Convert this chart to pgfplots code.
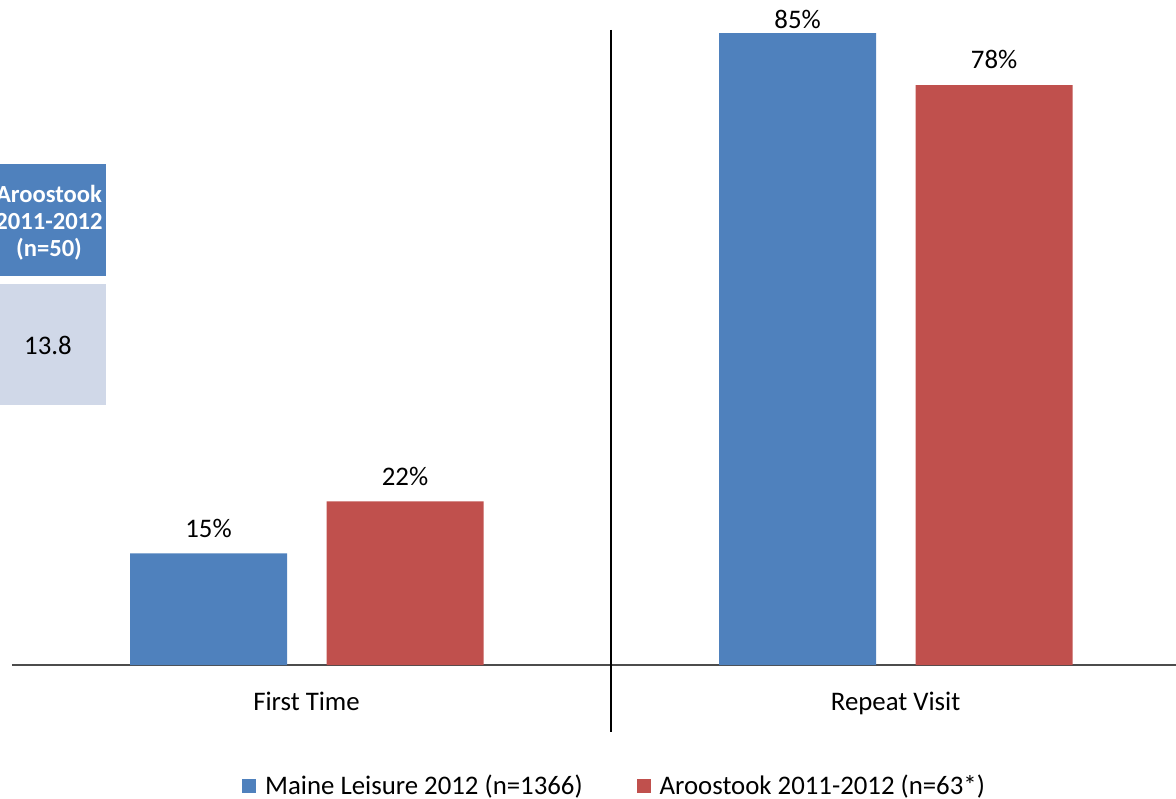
\documentclass[border=0pt]{standalone}
\usepackage{pgfplots}
\pgfplotsset{compat=1.18}
\usepackage{fontspec}
\setmainfont{Carlito}
\definecolor{cblue}{HTML}{4F81BD}
\definecolor{cred}{HTML}{C0504D}
\definecolor{clight}{HTML}{D0D8E8}
\begin{document}
\begin{tikzpicture}
\begin{axis}[
  at={(0,0)}, anchor=south west,
  scale only axis, width=582pt, height=332.5pt,
  xmin=-0.5, xmax=1.476, ymin=0, ymax=89.44,
  axis y line=none, axis x line*=bottom,
  x axis line style={-, line width=0.8pt, color=black!70},
  xtick={0,1}, xticklabels={First Time, Repeat Visit},
  major tick length=0pt,
  xticklabel style={font=\fontsize{13.4}{16}\selectfont, yshift=-10pt},
  ybar, bar width=78.5pt,
  /pgf/number format/assume math mode=true,
  visualization depends on={y \as \yv},
  nodes near coords={\pgfmathprintnumber{\pgfplotspointmeta}\%},
  nodes near coords style={font=\fontsize{13.4}{16}\selectfont, text=black, yshift={4.4pt-5.6pt*(\yv>80)}},
  clip=false,
  legend columns=2,
  legend style={draw=none, fill=none, at={(0.5185,0)}, anchor=center, yshift=-60.5pt,
    font=\fontsize{13.4}{16}\selectfont,
    /tikz/every even column/.append style={column sep=25pt}},
  legend image code/.code={\fill[#1,draw=none] (0pt,-3.5pt) rectangle (7pt,3.5pt);\path (9.5pt,0pt);},
]
\addplot[fill=cblue, draw=none, bar shift=-49pt] coordinates {(0,15) (1,85)};
\addplot[fill=cred, draw=none, bar shift=49.25pt] coordinates {(0,22) (1,78)};
\legend{Maine Leisure 2012 (n=1366), Aroostook 2011-2012 (n=63*)}
\draw[black, line width=1pt] (axis cs:0.517,85.41) -- (axis cs:0.517,-9.01);
\end{axis}
% overlaid table fragment at the left
\fill[cblue] (-9pt,194.5pt) rectangle (47pt,250.5pt);
\node[text=white, font=\fontsize{12.3}{13.5}\selectfont\bfseries, align=center] at (18.5pt,221pt) {Aroostook\\2011-2012\\(n=50)};
\fill[clight] (-9pt,130pt) rectangle (47pt,190.5pt);
\node[font=\fontsize{13.4}{16}\selectfont] at (18pt,160pt) {13.8};
\pgfresetboundingbox
\path (-6pt,-66.5pt) rectangle (582pt,332.5pt);
\end{tikzpicture}
\end{document}
